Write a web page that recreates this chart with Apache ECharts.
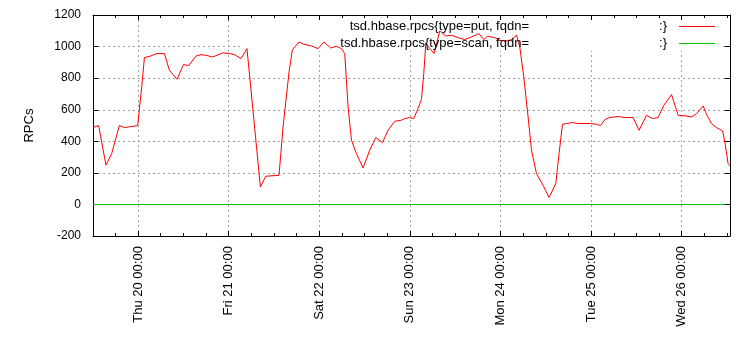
<!DOCTYPE html>
<html><head><meta charset="utf-8">
<script src="https://cdn.jsdelivr.net/npm/echarts@6/dist/echarts.min.js"></script>
<style>html,body{margin:0;padding:0;background:#fff}#c{width:750px;height:350px}</style>
</head><body><div id="c"></div>
<script>
const putTimes = [
'2012-09-19 12:05','2012-09-19 13:35','2012-09-19 15:31','2012-09-19 17:02','2012-09-19 19:04','2012-09-19 20:24','2012-09-19 22:04','2012-09-19 23:55',
'2012-09-20 00:59','2012-09-20 01:42','2012-09-20 03:17','2012-09-20 05:02','2012-09-20 06:59','2012-09-20 08:19','2012-09-20 10:20','2012-09-20 12:02','2012-09-20 13:26','2012-09-20 15:22','2012-09-20 16:41','2012-09-20 17:56','2012-09-20 19:47','2012-09-20 22:26',
'2012-09-21 00:13','2012-09-21 01:32','2012-09-21 03:17','2012-09-21 04:52','2012-09-21 08:25','2012-09-21 09:50','2012-09-21 13:21','2012-09-21 14:25','2012-09-21 16:00','2012-09-21 16:54','2012-09-21 18:39','2012-09-21 19:53','2012-09-21 21:56','2012-09-21 23:41',
'2012-09-22 01:16','2012-09-22 03:03','2012-09-22 04:33','2012-09-22 05:53','2012-09-22 06:45','2012-09-22 07:38','2012-09-22 08:32','2012-09-22 09:51','2012-09-22 11:36','2012-09-22 13:23','2012-09-22 14:58','2012-09-22 16:44','2012-09-22 18:14','2012-09-22 20:00','2012-09-22 21:46','2012-09-22 22:39','2012-09-22 23:58',
'2012-09-23 01:02','2012-09-23 02:10','2012-09-23 03:04','2012-09-23 03:41','2012-09-23 04:13','2012-09-23 06:25','2012-09-23 07:55','2012-09-23 09:31','2012-09-23 11:01','2012-09-23 12:46','2012-09-23 14:32','2012-09-23 16:19','2012-09-23 18:20','2012-09-23 19:35','2012-09-23 20:27','2012-09-23 22:29','2012-09-23 23:49',
'2012-09-24 01:24','2012-09-24 02:55','2012-09-24 04:14','2012-09-24 05:07','2012-09-24 06:10','2012-09-24 07:19','2012-09-24 08:13','2012-09-24 09:32','2012-09-24 11:17','2012-09-24 12:52','2012-09-24 14:39','2012-09-24 15:31','2012-09-24 16:25','2012-09-24 17:29','2012-09-24 19:04','2012-09-24 20:33','2012-09-24 23:55',
'2012-09-25 01:26','2012-09-25 02:29','2012-09-25 03:38','2012-09-25 04:57','2012-09-25 07:09','2012-09-25 08:56','2012-09-25 11:07','2012-09-25 12:43','2012-09-25 14:40','2012-09-25 16:16','2012-09-25 17:45','2012-09-25 19:15','2012-09-25 21:18','2012-09-25 23:03',
'2012-09-26 01:05','2012-09-26 02:35','2012-09-26 03:55','2012-09-26 05:40','2012-09-26 06:34','2012-09-26 07:53','2012-09-26 09:13','2012-09-26 10:49','2012-09-26 11:25','2012-09-26 12:17','2012-09-26 12:47'
];
const putValues = [
487,500,249,323,500,487,493,500,
744,930,940,956,956,850,793,886,880,940,949,945,934,960,
956,949,924,987,111,179,185,491,839,981,1029,1015,1004,987,
1029,991,1002,987,956,618,407,323,232,344,424,392,470,527,534,544,551,
544,608,665,829,1019,956,1099,1067,1072,1057,1044,1061,1082,1044,1065,1057,1040,
1035,1044,1072,997,808,554,344,196,122,44,133,323,508,513,519,513,513,
508,500,538,551,557,551,551,470,565,544,551,628,696,565,
561,554,576,624,571,513,487,466,396,259,245
];
const scanTimes = ['2012-09-19 12:05','2012-09-26 12:47'];
const scanValues = [0, 0];

const dayTickTimes = ['2012-09-20 00:00','2012-09-21 00:00','2012-09-22 00:00','2012-09-23 00:00','2012-09-24 00:00','2012-09-25 00:00','2012-09-26 00:00'];
const dayTickLabels = ['Thu 20 00:00','Fri 21 00:00','Sat 22 00:00','Sun 23 00:00','Mon 24 00:00','Tue 25 00:00','Wed 26 00:00'];
const minorTickTimes = [
'2012-09-19 18:00',
'2012-09-20 00:00','2012-09-20 06:00','2012-09-20 12:00','2012-09-20 18:00',
'2012-09-21 00:00','2012-09-21 06:00','2012-09-21 12:00','2012-09-21 18:00',
'2012-09-22 00:00','2012-09-22 06:00','2012-09-22 12:00','2012-09-22 18:00',
'2012-09-23 00:00','2012-09-23 06:00','2012-09-23 12:00','2012-09-23 18:00',
'2012-09-24 00:00','2012-09-24 06:00','2012-09-24 12:00','2012-09-24 18:00',
'2012-09-25 00:00','2012-09-25 06:00','2012-09-25 12:00','2012-09-25 18:00',
'2012-09-26 00:00','2012-09-26 06:00','2012-09-26 12:00'
];
const yMin = -200, yMax = 1200, yStep = 200;
const seriesNames = ['tsd.hbase.rpcs{type=put, fqdn=', 'tsd.hbase.rpcs{type=scan, fqdn='];
const nameTail = ':}';
const yName = 'RPCs';

const toMs = s => new Date(s.replace(' ', 'T') + ':00').getTime();
const dayMs = dayTickTimes.map(toMs);
const minorMs = minorTickTimes.map(toMs);
const xMin = toMs(putTimes[0]);
const xMax = toMs(putTimes[putTimes.length - 1]);
const labelFor = v => { const i = dayMs.indexOf(v); return i >= 0 ? dayTickLabels[i] : ''; };

const FONT = 'Liberation Sans';
const gridLine = { show: true, lineStyle: { color: '#a0a0a0', type: [2, 3], width: 1 } };
const axLine = { show: true, onZero: false, lineStyle: { color: '#000', width: 1 } };
const noLine = { show: false, onZero: false };

const chart = echarts.init(document.getElementById('c'), null, { renderer: 'canvas' });
chart.setOption({
  animation: false,
  backgroundColor: '#fff',
  grid: { left: 93, right: 20, top: 15, bottom: 113.9, containLabel: false },
  xAxis: [
    { type: 'value', position: 'bottom', min: xMin, max: xMax, z: 0, scale: true,
      axisLine: axLine,
      axisTick: { show: true, inside: true, length: 5, customValues: dayMs, lineStyle: { color: '#000' } },
      axisLabel: { show: true, customValues: dayMs, rotate: 90, margin: 10, color: '#000', fontSize: 13, fontFamily: FONT, formatter: labelFor },
      splitLine: gridLine },
    { type: 'value', position: 'bottom', min: xMin, max: xMax, z: 3, scale: true,
      axisLine: noLine,
      axisTick: { show: true, inside: true, length: 3, customValues: minorMs, lineStyle: { color: '#000' } },
      axisLabel: { show: false }, splitLine: { show: false } },
    { type: 'value', position: 'top', min: xMin, max: xMax, z: 3, scale: true,
      axisLine: axLine,
      axisTick: { show: true, inside: true, length: 5, customValues: dayMs, lineStyle: { color: '#000' } },
      axisLabel: { show: false }, splitLine: { show: false } },
    { type: 'value', position: 'top', min: xMin, max: xMax, z: 3, scale: true,
      axisLine: noLine,
      axisTick: { show: true, inside: true, length: 3, customValues: minorMs, lineStyle: { color: '#000' } },
      axisLabel: { show: false }, splitLine: { show: false } }
  ],
  yAxis: [
    { type: 'value', position: 'left', min: yMin, max: yMax, interval: yStep, z: 0,
      name: yName, nameLocation: 'middle', nameRotate: 90, nameGap: 57,
      nameTextStyle: { color: '#000', fontSize: 13, fontFamily: FONT },
      axisLine: axLine,
      axisTick: { show: true, inside: true, length: 5, lineStyle: { color: '#000' } },
      axisLabel: { color: '#000', fontSize: 12, fontFamily: FONT, margin: 12, formatter: v => String(v) },
      splitLine: gridLine },
    { type: 'value', position: 'right', min: yMin, max: yMax, interval: yStep, z: 3,
      axisLine: axLine,
      axisTick: { show: true, inside: true, length: 5, lineStyle: { color: '#000' } },
      axisLabel: { show: false }, splitLine: { show: false } }
  ],
  series: [
    { name: seriesNames[0], type: 'line', xAxisIndex: 0, yAxisIndex: 0, z: 2,
      data: putTimes.map((t, i) => [toMs(t), putValues[i]]),
      showSymbol: false, symbol: 'none', lineStyle: { color: '#ff0000', width: 1 }, itemStyle: { color: '#ff0000' } },
    { name: seriesNames[1], type: 'line', xAxisIndex: 0, yAxisIndex: 0, z: 2,
      data: scanTimes.map((t, i) => [toMs(t), scanValues[i]]),
      showSymbol: false, symbol: 'none', lineStyle: { color: '#00c000', width: 1 }, itemStyle: { color: '#00c000' } }
  ],
  graphic: [
    { type: 'rect', z: 1, shape: { x: 240, y: 16, width: 482, height: 35 }, style: { fill: '#fff' } },
    { type: 'text', z: 5, x: 529, y: 26, style: { text: seriesNames[0], fill: '#000', font: '13px "Liberation Sans"', textAlign: 'right', textVerticalAlign: 'middle' } },
    { type: 'text', z: 5, x: 667, y: 26, style: { text: nameTail, fill: '#000', font: '13px "Liberation Sans"', textAlign: 'right', textVerticalAlign: 'middle' } },
    { type: 'line', z: 5, shape: { x1: 679, y1: 26.5, x2: 715, y2: 26.5 }, style: { stroke: '#ff0000', lineWidth: 1 } },
    { type: 'text', z: 5, x: 529, y: 43, style: { text: seriesNames[1], fill: '#000', font: '13px "Liberation Sans"', textAlign: 'right', textVerticalAlign: 'middle' } },
    { type: 'text', z: 5, x: 667, y: 43, style: { text: nameTail, fill: '#000', font: '13px "Liberation Sans"', textAlign: 'right', textVerticalAlign: 'middle' } },
    { type: 'line', z: 5, shape: { x1: 679, y1: 43.5, x2: 715, y2: 43.5 }, style: { stroke: '#00c000', lineWidth: 1 } }
  ]
});
</script></body></html>
